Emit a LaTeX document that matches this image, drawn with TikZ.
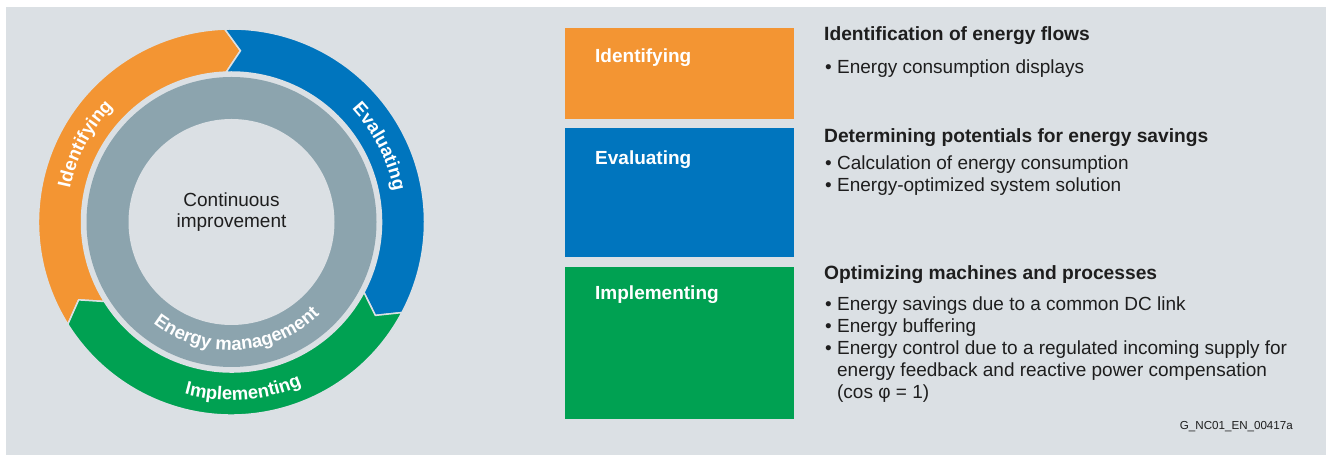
\documentclass[tikz,border=0pt]{standalone}
\usepackage{fontspec}
\setmainfont{Liberation Sans}
\usetikzlibrary{decorations.text}
\definecolor{panelgray}{RGB}{219,224,228}
\definecolor{idorange}{RGB}{243,149,51}
\definecolor{evblue}{RGB}{0,117,190}
\definecolor{imgreen}{RGB}{0,161,82}
\definecolor{ringgray}{RGB}{140,164,174}
\definecolor{textdark}{RGB}{30,30,30}
\newcommand\ringfont{\fontsize{18.5}{18.5}\selectfont\bfseries\color{white}}
\begin{document}
\begin{tikzpicture}[x=1pt,y=1pt,
  segment/.style={draw=panelgray, line width=1.5pt, line join=miter},
  boxlabel/.style={anchor=base west, inner sep=0pt, text=white, font=\fontsize{19}{22}\selectfont\bfseries},
  heading/.style={anchor=base west, inner sep=0pt, text=textdark, font=\fontsize{19.2}{22}\selectfont\bfseries},
  bullets/.style={anchor=base west, inner sep=0pt, text=textdark, align=left, font=\fontsize{19}{22}\selectfont}]
\useasboundingbox (0,0) rectangle (1327,457);
\fill[panelgray] (6,2) rectangle (1326,450);
% cycle on the left
\begin{scope}[shift={(231.5,235)}]
\filldraw[fill=idorange, segment] (212:193) arc[start angle=212, end angle=92, radius=193] -- (87:171.5) -- (92:150) arc[start angle=92, end angle=212, radius=150] -- (207:171.5) -- cycle;
\filldraw[fill=evblue, segment] (92:193) arc[start angle=92, end angle=-28, radius=193] -- (-33:171.5) -- (-28:150) arc[start angle=-28, end angle=92, radius=150] -- (87:171.5) -- cycle;
\filldraw[fill=imgreen, segment] (332:193) arc[start angle=332, end angle=212, radius=193] -- (207:171.5) -- (212:150) arc[start angle=212, end angle=332, radius=150] -- (327:171.5) -- cycle;
\fill[ringgray] (0,0) circle[radius=145];
\fill[panelgray] (0,0) circle[radius=103];
\node[align=center, inner sep=0pt, text=textdark, font=\fontsize{19}{21}\selectfont] (cont) at (0,9.5) {Continuous\\improvement};
\path[decorate, decoration={text along path, text align=center, text={|\ringfont|Identifying}}] (212:165) arc[start angle=212, end angle=92, radius=165];
\path[decorate, decoration={text along path, text align=center, text={|\ringfont|Evaluating}}] (87:165) arc[start angle=87, end angle=-33, radius=165];
\path[decorate, decoration={text along path, text align=center, text={|\ringfont|Implementing}}] (214:178) arc[start angle=214, end angle=334, radius=178];
\path[decorate, decoration={text along path, text align=center, text={|\ringfont|Energy management}}] (213:128) arc[start angle=213, end angle=333, radius=128];
\end{scope}
% boxes on the right
\fill[idorange] (565,338) rectangle (794,429);
\fill[evblue] (565,200) rectangle (794,329);
\fill[imgreen] (565,38) rectangle (794,190);
\node[boxlabel] (idlabel) at (595,394.3) {Identifying};
\node[boxlabel] (evlabel) at (595,292) {Evaluating};
\node[boxlabel] (imlabel) at (595,157) {Implementing};
% texts beside the boxes (base = last line)
\node[heading] (idhead) at (824,416.3) {Identification of energy flows};
\node[bullets] (idlist) at (825,383) {• Energy consumption displays};
\node[heading] (evhead) at (824,314.3) {Determining potentials for energy savings};
\node[bullets] (evlist) at (825,265.3) {• Calculation of energy consumption\\• Energy-optimized system solution};
\node[heading] (imhead) at (824,177) {Optimizing machines and processes};
\node[bullets] (imlist) at (825,58.7) {• Energy savings due to a common DC link\\• Energy buffering\\• Energy control due to a regulated incoming supply for\\\hphantom{• }energy feedback and reactive power compensation\\\hphantom{• }(cos φ = 1)};
\node[anchor=base east, inner sep=0pt, text=textdark, font=\fontsize{11.6}{14}\selectfont] (code) at (1293,27) {G\_NC01\_EN\_00417a};
\end{tikzpicture}
\end{document}
